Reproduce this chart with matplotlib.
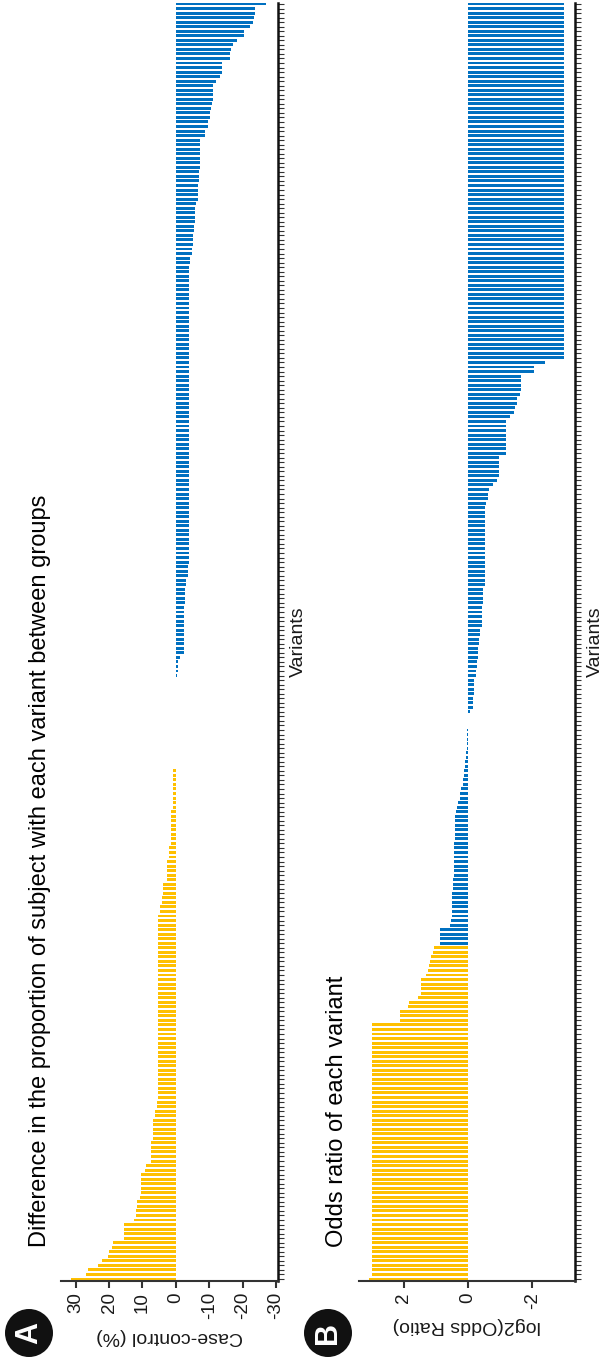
import numpy as np
import matplotlib.pyplot as plt
from matplotlib.patches import Circle

plt.rcParams['font.family'] = ['Liberation Sans', 'DejaVu Sans']
plt.rcParams['axes.unicode_minus'] = False

# Panel A: case - control difference (%) for each variant, first variant at the bottom
diff_case_higher = [
    31.3, 26.8, 26.4, 23.2, 22.1, 20.4, 20.1, 19.1, 18.9, 15.6,
    15.4, 15.4, 15.4, 12.4, 12.0, 12.0, 11.7, 11.7, 10.7, 10.3,
    10.3, 10.3, 10.3, 10.3, 9.3, 9.0, 7.4, 7.4, 7.4, 7.4,
    7.4, 6.7, 6.7, 6.7, 6.7, 6.7, 6.1, 6.1, 5.7, 5.7,
    5.2, 5.2, 5.2, 5.2, 5.2, 5.2, 5.2, 5.2, 5.2, 5.2,
    5.2, 5.2, 5.2, 5.2, 5.2, 5.2, 5.2, 5.2, 5.2, 5.2,
    5.2, 5.2, 5.2, 5.2, 5.2, 5.2, 5.2, 5.2, 5.2, 5.2,
    5.2, 5.2, 5.2, 5.2, 5.2, 5.2, 5.2, 5.2, 5.2, 5.2,
    5.2,
    4.7, 4.7, 4.2, 4.2, 3.7, 3.7, 3.7, 2.5, 2.5, 2.5,
    2.5, 2.5, 2.0, 2.0, 2.0, 1.5, 1.5, 1.5, 1.5, 1.5,
    1.5, 1.5, 1.5, 1.0, 1.0, 1.0, 1.0, 1.0, 1.0, 1.0,
    1.0, 1.0,
]
diff_equal = [
    0, 0, 0, 0, 0, 0, 0, 0, 0, 0,
    0, 0, 0, 0, 0, 0, 0, 0, 0, 0,
]
diff_control_higher = [
    -0.3, -0.6, -0.6, -0.6, -1.3,
    -2.4, -2.4, -2.4, -2.4, -2.4, -2.4, -2.4, -2.4, -2.4, -2.4, -2.4,
    -2.8, -2.8, -2.8, -2.8, -3.1, -3.1, -3.6, -3.6, -3.6,
    -3.8, -3.8, -3.8, -3.8, -3.8, -3.8, -3.8, -3.8, -3.8, -3.8,
    -3.8, -3.8, -3.8, -3.8, -3.8, -3.8, -3.8, -3.8, -3.8, -3.8,
    -3.8, -3.8, -3.8, -3.8, -3.8, -3.8, -3.8, -3.8, -3.8, -3.8,
    -3.8, -3.8, -3.8, -3.8, -3.8, -3.8, -3.8, -3.8, -3.8, -3.8,
    -3.8, -3.8, -3.8, -3.8, -3.8, -3.8, -3.8, -3.8, -3.8, -3.8,
    -3.8, -3.8, -3.8, -3.8, -3.8, -3.8, -3.8, -3.8, -3.8, -3.8,
    -3.8, -3.8, -3.8, -3.8, -3.8, -3.8,
    -4.3, -4.3, -4.7, -4.7, -5.1, -5.1, -5.1, -5.4, -5.4,
    -5.8, -5.8, -5.8, -5.8, -6.1, -6.5, -6.6, -6.6, -6.6,
    -6.8, -6.8, -6.8, -7.2, -7.2, -7.2, -7.2, -7.2, -7.2, -7.2,
    -8.6, -8.6, -9.7, -9.7, -10.1, -10.1, -10.5, -10.9,
    -11.2, -11.2, -11.2, -11.2, -11.9, -13.3, -13.7, -13.7, -13.7,
    -16.2, -16.2, -16.6, -17.0, -18.3, -20.5, -20.5,
    -22.3, -23.1, -23.4, -23.8, -23.8, -27.0,
]

# Panel B: log2 odds ratio for each variant, first variant at the bottom
log2_or_gold = [
    3.08, 3.0, 3.0, 3.0, 3.0, 3.0, 3.0, 3.0, 3.0, 3.0,
    3.0, 3.0, 3.0, 3.0, 3.0, 3.0, 3.0, 3.0, 3.0, 3.0,
    3.0, 3.0, 3.0, 3.0, 3.0, 3.0, 3.0, 3.0, 3.0, 3.0,
    3.0, 3.0, 3.0, 3.0, 3.0, 3.0, 3.0, 3.0, 3.0, 3.0,
    3.0, 3.0, 3.0, 3.0, 3.0, 3.0, 3.0, 3.0, 3.0, 3.0,
    3.0, 3.0, 3.0, 3.0, 3.0, 3.0, 3.0,
    2.13, 2.13, 2.13, 1.88, 1.85, 1.55, 1.48,
    1.48, 1.48, 1.48, 1.32, 1.26, 1.22, 1.18, 1.16, 1.10, 1.06,
]
log2_or_blue = [
    0.89, 0.89, 0.89, 0.87, 0.58, 0.54, 0.50, 0.50, 0.50, 0.50,
    0.50, 0.50, 0.48, 0.48, 0.48, 0.43, 0.43, 0.43, 0.43, 0.43,
    0.43, 0.43, 0.43, 0.41, 0.41, 0.41, 0.41, 0.41, 0.41, 0.39,
    0.36, 0.33, 0.24, 0.24, 0.21, 0.17, 0.15, 0.13, 0.12, 0.10,
    0.09, 0.08, 0.07, 0.05, 0.05, 0.04, 0.03, 0.02, 0.01, 0.01,
    0.0,
    -0.07, -0.16, -0.16, -0.16, -0.19, -0.19, -0.19, -0.19, -0.23, -0.23,
    -0.28, -0.28, -0.31, -0.31, -0.31, -0.33, -0.33, -0.38, -0.38, -0.44,
    -0.44, -0.44, -0.44, -0.44, -0.46, -0.46, -0.46, -0.46, -0.54, -0.54,
    -0.54, -0.54, -0.54, -0.54, -0.54, -0.54, -0.54, -0.54, -0.54, -0.54,
    -0.54, -0.54, -0.54, -0.54, -0.54, -0.54, -0.57, -0.61, -0.61, -0.64,
    -0.76, -0.91, -0.96, -0.96, -0.96, -0.96, -0.96, -1.17, -1.17, -1.17,
    -1.17, -1.17, -1.17, -1.17, -1.17, -1.32, -1.43, -1.47, -1.51, -1.51,
    -1.63, -1.66, -1.66, -1.66, -1.66, -2.04, -2.04, -2.38,
    -3.0, -3.0, -3.0, -3.0, -3.0, -3.0, -3.0, -3.0, -3.0, -3.0,
    -3.0, -3.0, -3.0, -3.0, -3.0, -3.0, -3.0, -3.0, -3.0, -3.0,
    -3.0, -3.0, -3.0, -3.0, -3.0, -3.0, -3.0, -3.0, -3.0, -3.0,
    -3.0, -3.0, -3.0, -3.0, -3.0, -3.0, -3.0, -3.0, -3.0, -3.0,
    -3.0, -3.0, -3.0, -3.0, -3.0, -3.0, -3.0, -3.0, -3.0, -3.0,
    -3.0, -3.0, -3.0, -3.0, -3.0, -3.0, -3.0, -3.0, -3.0, -3.0,
    -3.0, -3.0, -3.0, -3.0, -3.0, -3.0, -3.0, -3.0, -3.0, -3.0,
    -3.0, -3.0, -3.0, -3.0, -3.0, -3.0, -3.0, -3.0, -3.0,
]

diff_ticks = [30, 20, 10, 0, -10, -20, -30]
lor_ticks = [2, 0, -2]

GOLD = '#FFC000'
BLUE = '#0070C0'
TXT = '#1a1a1a'

W, H = 602, 1358
fig = plt.figure(figsize=(W / 100, H / 100), dpi=100)


def px_axes(x0, x1, y_top, y_bot):
    return fig.add_axes([x0 / W, (H - y_bot) / H, (x1 - x0) / W, (y_bot - y_top) / H])


def style_axis(ax, n, xlim, ticks, xlabel):
    ax.set_xlim(*xlim)
    step = 1275 / (n - 1)
    ax.set_ylim(-2 / step, n - 1 + 1 / step)
    for s in ['top', 'left']:
        ax.spines[s].set_visible(False)
    ax.spines['bottom'].set_linewidth(1.5)
    ax.spines['bottom'].set_color('#333333')
    ax.spines['right'].set_linewidth(1.8)
    ax.spines['right'].set_color('#111111')
    ax.yaxis.tick_right()
    ax.set_yticks(np.arange(n))
    ax.set_yticklabels([])
    ax.tick_params(axis='y', length=4, width=0.8, color='#333333')
    ax.set_xticks(ticks)
    ax.set_xticklabels([str(t) for t in ticks], rotation=90, va='top')
    ax.tick_params(axis='x', length=5, width=1.5, color='#333333',
                   labelsize=13.5, labelcolor=TXT, pad=3)
    ax.set_xlabel(xlabel, rotation=180, fontsize=14, color=TXT, labelpad=6)
    ax.yaxis.set_label_position('right')
    ax.set_ylabel('Variants', rotation=90, fontsize=14, color=TXT, labelpad=1)


# A: difference in proportion
case_control = np.array(diff_case_higher + diff_equal + diff_control_higher)
n_var = len(case_control)
pos = np.arange(n_var)
axA = px_axes(61, 278, 3, 1281)
colors_a = np.where(case_control >= 0, GOLD, BLUE)
axA.barh(pos, case_control, height=0.65, color=colors_a, linewidth=0)
style_axis(axA, n_var, (34.4, -30.6), diff_ticks, 'Case-control (%)')

# B: odds ratio
log2_or = np.array(log2_or_gold + log2_or_blue)
colors_b = [GOLD] * len(log2_or_gold) + [BLUE] * len(log2_or_blue)
axB = px_axes(359, 575, 3, 1281)
axB.barh(np.arange(len(log2_or)), log2_or, height=0.65, color=colors_b, linewidth=0)
style_axis(axB, len(log2_or), (3.40, -3.33), lor_ticks, 'log2(Odds Ratio)')

# panel titles, running up the page
fig.text(40 / W, (H - 1247) / H,
         'Difference in the proportion of subject with each variant between groups',
         rotation=90, ha='center', va='bottom', fontsize=17, color='black')
fig.text(337 / W, (H - 1247) / H, 'Odds ratio of each variant',
         rotation=90, ha='center', va='bottom', fontsize=17, color='black')

# panel letters in black discs
for cx, letter in [(29, 'A'), (328, 'B')]:
    cy = H - 1333
    fig.add_artist(Circle((cx / 100, cy / 100), 0.24, transform=fig.dpi_scale_trans,
                          facecolor='#111111', edgecolor='none'))
    fig.text(cx / W, cy / H, letter, rotation=90, ha='center', va='center',
             fontsize=22, fontweight='bold', color='white')

fig.savefig('out.png', dpi=100)
